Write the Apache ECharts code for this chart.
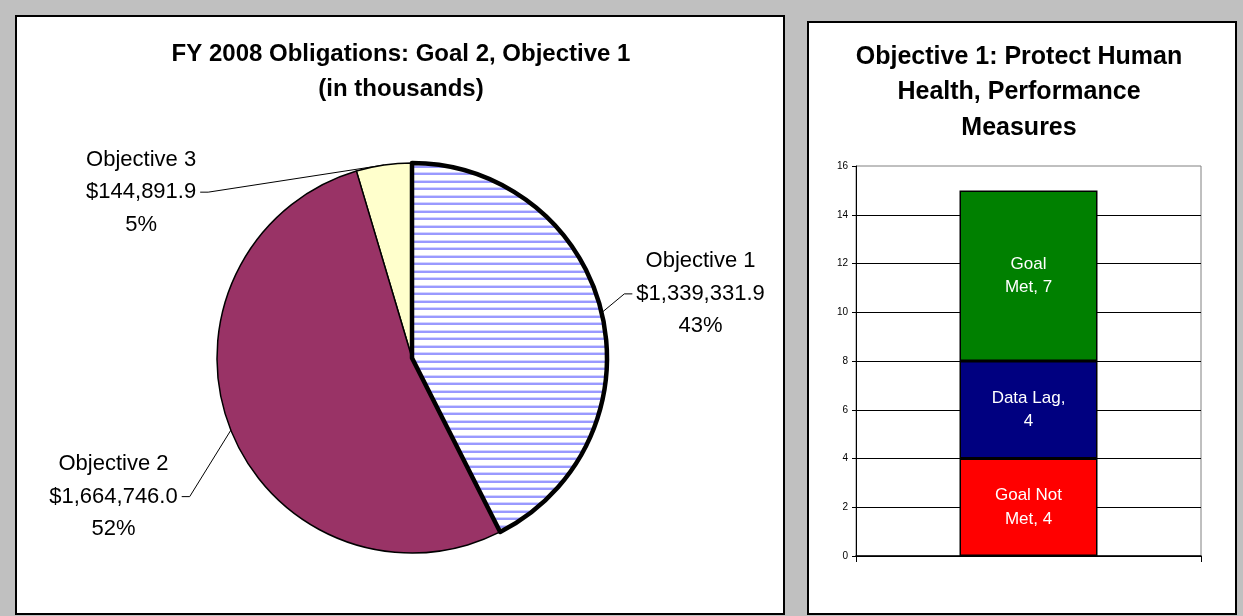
<!DOCTYPE html>
<html><head><meta charset="utf-8">
<script src="https://cdn.jsdelivr.net/npm/echarts@6/dist/echarts.min.js"></script>
<style>html,body{margin:0;padding:0;background:#c0c0c0}#c{width:1243px;height:616px}</style>
</head><body><div id="c"></div>
<script>
// ---- data ----
const pieCategories = ['Objective 1', 'Objective 2', 'Objective 3'];
const pieValues = [1339331.9, 1664746.0, 144891.9];
const pieShares = [43, 52, 5];
const barCategory = [''];
const barSeriesNames = ['Goal Not\nMet', 'Data Lag', 'Goal\nMet'];
const barValues = [4, 4, 7];
const yAxisMin = 0, yAxisMax = 16, yAxisStep = 2;

// ---- styles ----
function hatch() {
  const c = document.createElement('canvas');
  c.width = 8; c.height = 15;
  const g = c.getContext('2d');
  g.fillStyle = '#ffffff'; g.fillRect(0, 0, 8, 15);
  g.fillStyle = '#d4d4ff'; g.fillRect(0, 0, 8, 1); g.fillRect(0, 7, 8, 1);
  g.fillStyle = '#9999ff'; g.fillRect(0, 1, 8, 2); g.fillRect(0, 8, 8, 2);
  return c;
}
const pieStyles = {
  'Objective 1': { color: { image: hatch(), repeat: 'repeat' }, borderColor: '#000', borderWidth: 4.5 },
  'Objective 2': { color: '#993366', borderColor: '#000', borderWidth: 1.5 },
  'Objective 3': { color: '#ffffcc', borderColor: '#000', borderWidth: 1.5 }
};
const labelShift = { 'Objective 1': [2, -16], 'Objective 2': [-21, 62], 'Objective 3': [-165, 39] };
const barColors = ['#ff0000', '#000080', '#008000'];

// drawn counter-clockwise in reverse order so Objective 1 (thick outline) sits on top
const pieData = pieCategories.map((n, i) => ({
  name: n, value: pieValues[i], share: pieShares[i], itemStyle: pieStyles[n]
})).reverse();

function money(v) {
  return '$' + v.toLocaleString('en-US', { minimumFractionDigits: 1, maximumFractionDigits: 1 });
}

const FONT = 'Liberation Sans, Arial, sans-serif';
const chart = echarts.init(document.getElementById('c'), null, { renderer: 'canvas' });
chart.setOption({
  backgroundColor: '#c0c0c0',
  animation: false,
  textStyle: { fontFamily: FONT },
  graphic: [
    { type: 'rect', z: -10, silent: true, shape: { x: 16, y: 16, width: 768, height: 598 },
      style: { fill: '#fff', stroke: '#000', lineWidth: 2 } },
    { type: 'rect', z: -10, silent: true, shape: { x: 808, y: 22, width: 428, height: 592 },
      style: { fill: '#fff', stroke: '#000', lineWidth: 2 } }
  ],
  title: [
    { text: 'FY 2008 Obligations: Goal 2, Objective 1\n(in thousands)', left: 396, top: 32, textAlign: 'center',
      textStyle: { fontFamily: FONT, fontSize: 24, fontWeight: 'bold', lineHeight: 35, color: '#000' } },
    { text: 'Objective 1: Protect Human\nHealth, Performance\nMeasures', left: 1014, top: 34, textAlign: 'center',
      textStyle: { fontFamily: FONT, fontSize: 25, fontWeight: 'bold', lineHeight: 35.5, color: '#000' } }
  ],
  grid: { left: 856, top: 166, width: 345, height: 390, show: true, borderColor: '#808080', borderWidth: 1, backgroundColor: 'transparent' },
  xAxis: {
    type: 'category', data: barCategory,
    axisLine: { lineStyle: { color: '#000', width: 1.5 } },
    axisTick: { show: true, length: 6, lineStyle: { color: '#000' } },
    axisLabel: { show: false }
  },
  yAxis: {
    type: 'value', min: yAxisMin, max: yAxisMax, interval: yAxisStep,
    axisLine: { show: true, lineStyle: { color: '#000', width: 1 } },
    axisTick: { show: true, length: 4, lineStyle: { color: '#000' } },
    splitLine: { show: true, showMaxLine: false, lineStyle: { color: '#000', width: 1 } },
    axisLabel: { fontFamily: FONT, fontSize: 10, color: '#000', margin: 8 }
  },
  series: [
    {
      type: 'pie', center: [412, 358], radius: 195, startAngle: 90, clockwise: false,
      avoidLabelOverlap: false, data: pieData,
      label: {
        show: true, position: 'outside', color: '#000',
        formatter: p => '{a|' + p.name + '}\n{a|' + money(p.value) + '}\n{a|' + p.data.share + '%}',
        rich: { a: { fontFamily: FONT, fontSize: 22, lineHeight: 32.5, color: '#000', align: 'center' } }
      },
      labelLine: { show: true, length: 12, length2: 16, smooth: false, lineStyle: { color: '#000', width: 1 } },
      labelLayout: function (p) {
        const s = labelShift[pieData[p.dataIndex].name];
        const r = p.labelRect;
        const pts = p.labelLinePoints;
        if (!pts) return { dx: s[0], dy: s[1] };
        const onRight = r.x > pts[0][0];
        const cy = r.y + r.height / 2 + s[1];
        const edge = onRight ? r.x + s[0] - 4 : r.x + r.width + s[0] + 4;
        const bend = onRight ? edge - 8 : edge + 8;
        return { dx: s[0], dy: s[1], labelLinePoints: [pts[0], [bend, cy], [edge, cy]] };
      }
    }
  ].concat(barSeriesNames.map((n, i) => ({
    type: 'bar', name: n, stack: 'total', data: [barValues[i]], barWidth: '40%',
    itemStyle: { color: barColors[i], borderColor: '#000', borderWidth: 1.5 },
    label: {
      show: true, position: 'inside', color: '#fff', fontFamily: FONT, fontSize: 17, lineHeight: 23.5,
      formatter: p => p.seriesName + (p.seriesName.indexOf('\n') >= 0 ? ', ' : ',\n') + p.value
    }
  })))
});
</script></body></html>
